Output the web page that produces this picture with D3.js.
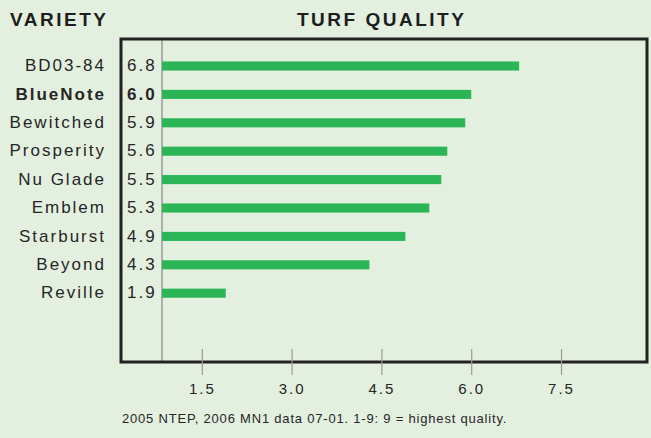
<!DOCTYPE html>
<html>
<head>
<meta charset="utf-8">
<script src="https://cdn.jsdelivr.net/npm/d3@7"></script>
<style>
  body { margin: 0; background: #e3efdf; }
  svg { display: block; }
  .lbl { font-family: "Liberation Sans", Arial, sans-serif; font-size: 17px; letter-spacing: 2px; fill: #262626; }
  .head { font-family: "Liberation Sans", Arial, sans-serif; font-weight: bold; font-size: 19px; letter-spacing: 2.5px; fill: #1e1e1e; }
  .axis text { font-family: "Liberation Sans", Arial, sans-serif; font-size: 15px; letter-spacing: 2px; fill: #262626; }
  .axis line { stroke: #9a9a9a; stroke-width: 1.2px; }
  .note { font-family: "Liberation Sans", Arial, sans-serif; font-size: 13px; letter-spacing: 0.8px; fill: #262626; }
</style>
</head>
<body>
<svg id="chart"></svg>
<script>
const varieties = ["BD03-84", "BlueNote", "Bewitched", "Prosperity", "Nu Glade", "Emblem", "Starburst", "Beyond", "Reville"];
const quality = [6.8, 6.0, 5.9, 5.6, 5.5, 5.3, 4.9, 4.3, 1.9];
const tickVals = [1.5, 3.0, 4.5, 6.0, 7.5];
const highlight = "BlueNote";

const width = 651, height = 438;
const frame = { left: 121, top: 39, right: 647, bottom: 362 };
const barStart = 162;

const svg = d3.select("#chart")
  .attr("width", width)
  .attr("height", height);

svg.append("rect")
  .attr("width", width).attr("height", height)
  .attr("fill", "#e3efdf");

const x = d3.scaleLinear().domain([0, 9]).range([112, 112 + 9 * 59.87]);
const y = d3.scaleBand()
  .domain(varieties)
  .range([51.8, 307.4])
  .paddingInner(0.68)
  .paddingOuter(0.34);

// headers
svg.append("text").attr("class", "head")
  .attr("x", 10).attr("y", 26)
  .text("VARIETY");
svg.append("text").attr("class", "head")
  .attr("x", 297).attr("y", 26)
  .text("TURF QUALITY");

// inner baseline
svg.append("line")
  .attr("x1", barStart).attr("x2", barStart)
  .attr("y1", frame.top).attr("y2", frame.bottom)
  .attr("stroke", "#9a9a9a").attr("stroke-width", 1.5);

// bars
svg.selectAll(".bar")
  .data(varieties)
  .join("rect")
  .attr("class", "bar")
  .attr("x", barStart)
  .attr("y", d => y(d))
  .attr("width", (d, i) => x(quality[i]) - barStart)
  .attr("height", y.bandwidth())
  .attr("fill", "#2bb556");

// variety names
svg.selectAll(".name")
  .data(varieties)
  .join("text")
  .attr("class", "lbl name")
  .attr("x", 106)
  .attr("y", d => y(d) + y.bandwidth() / 2)
  .attr("dy", "0.3em")
  .attr("text-anchor", "end")
  .attr("font-weight", d => d === highlight ? "bold" : null)
  .text(d => d);

// values
svg.selectAll(".val")
  .data(varieties)
  .join("text")
  .attr("class", "lbl val")
  .attr("x", 127)
  .attr("y", d => y(d) + y.bandwidth() / 2)
  .attr("dy", "0.3em")
  .attr("font-weight", d => d === highlight ? "bold" : null)
  .text((d, i) => d3.format(".1f")(quality[i]));

// frame
svg.append("rect")
  .attr("x", frame.left).attr("y", frame.top)
  .attr("width", frame.right - frame.left)
  .attr("height", frame.bottom - frame.top)
  .attr("fill", "none")
  .attr("stroke", "#222")
  .attr("stroke-width", 3);

// axis
const axis = svg.append("g")
  .attr("class", "axis")
  .attr("transform", "translate(0,349)")
  .call(d3.axisBottom(x).tickValues(tickVals).tickSize(26).tickPadding(8.5).tickFormat(d3.format(".1f")));
axis.select(".domain").remove();

svg.append("text").attr("class", "note")
  .attr("x", 122).attr("y", 423)
  .text("2005 NTEP, 2006 MN1 data 07-01. 1-9: 9 = highest quality.");
</script>
</body>
</html>
